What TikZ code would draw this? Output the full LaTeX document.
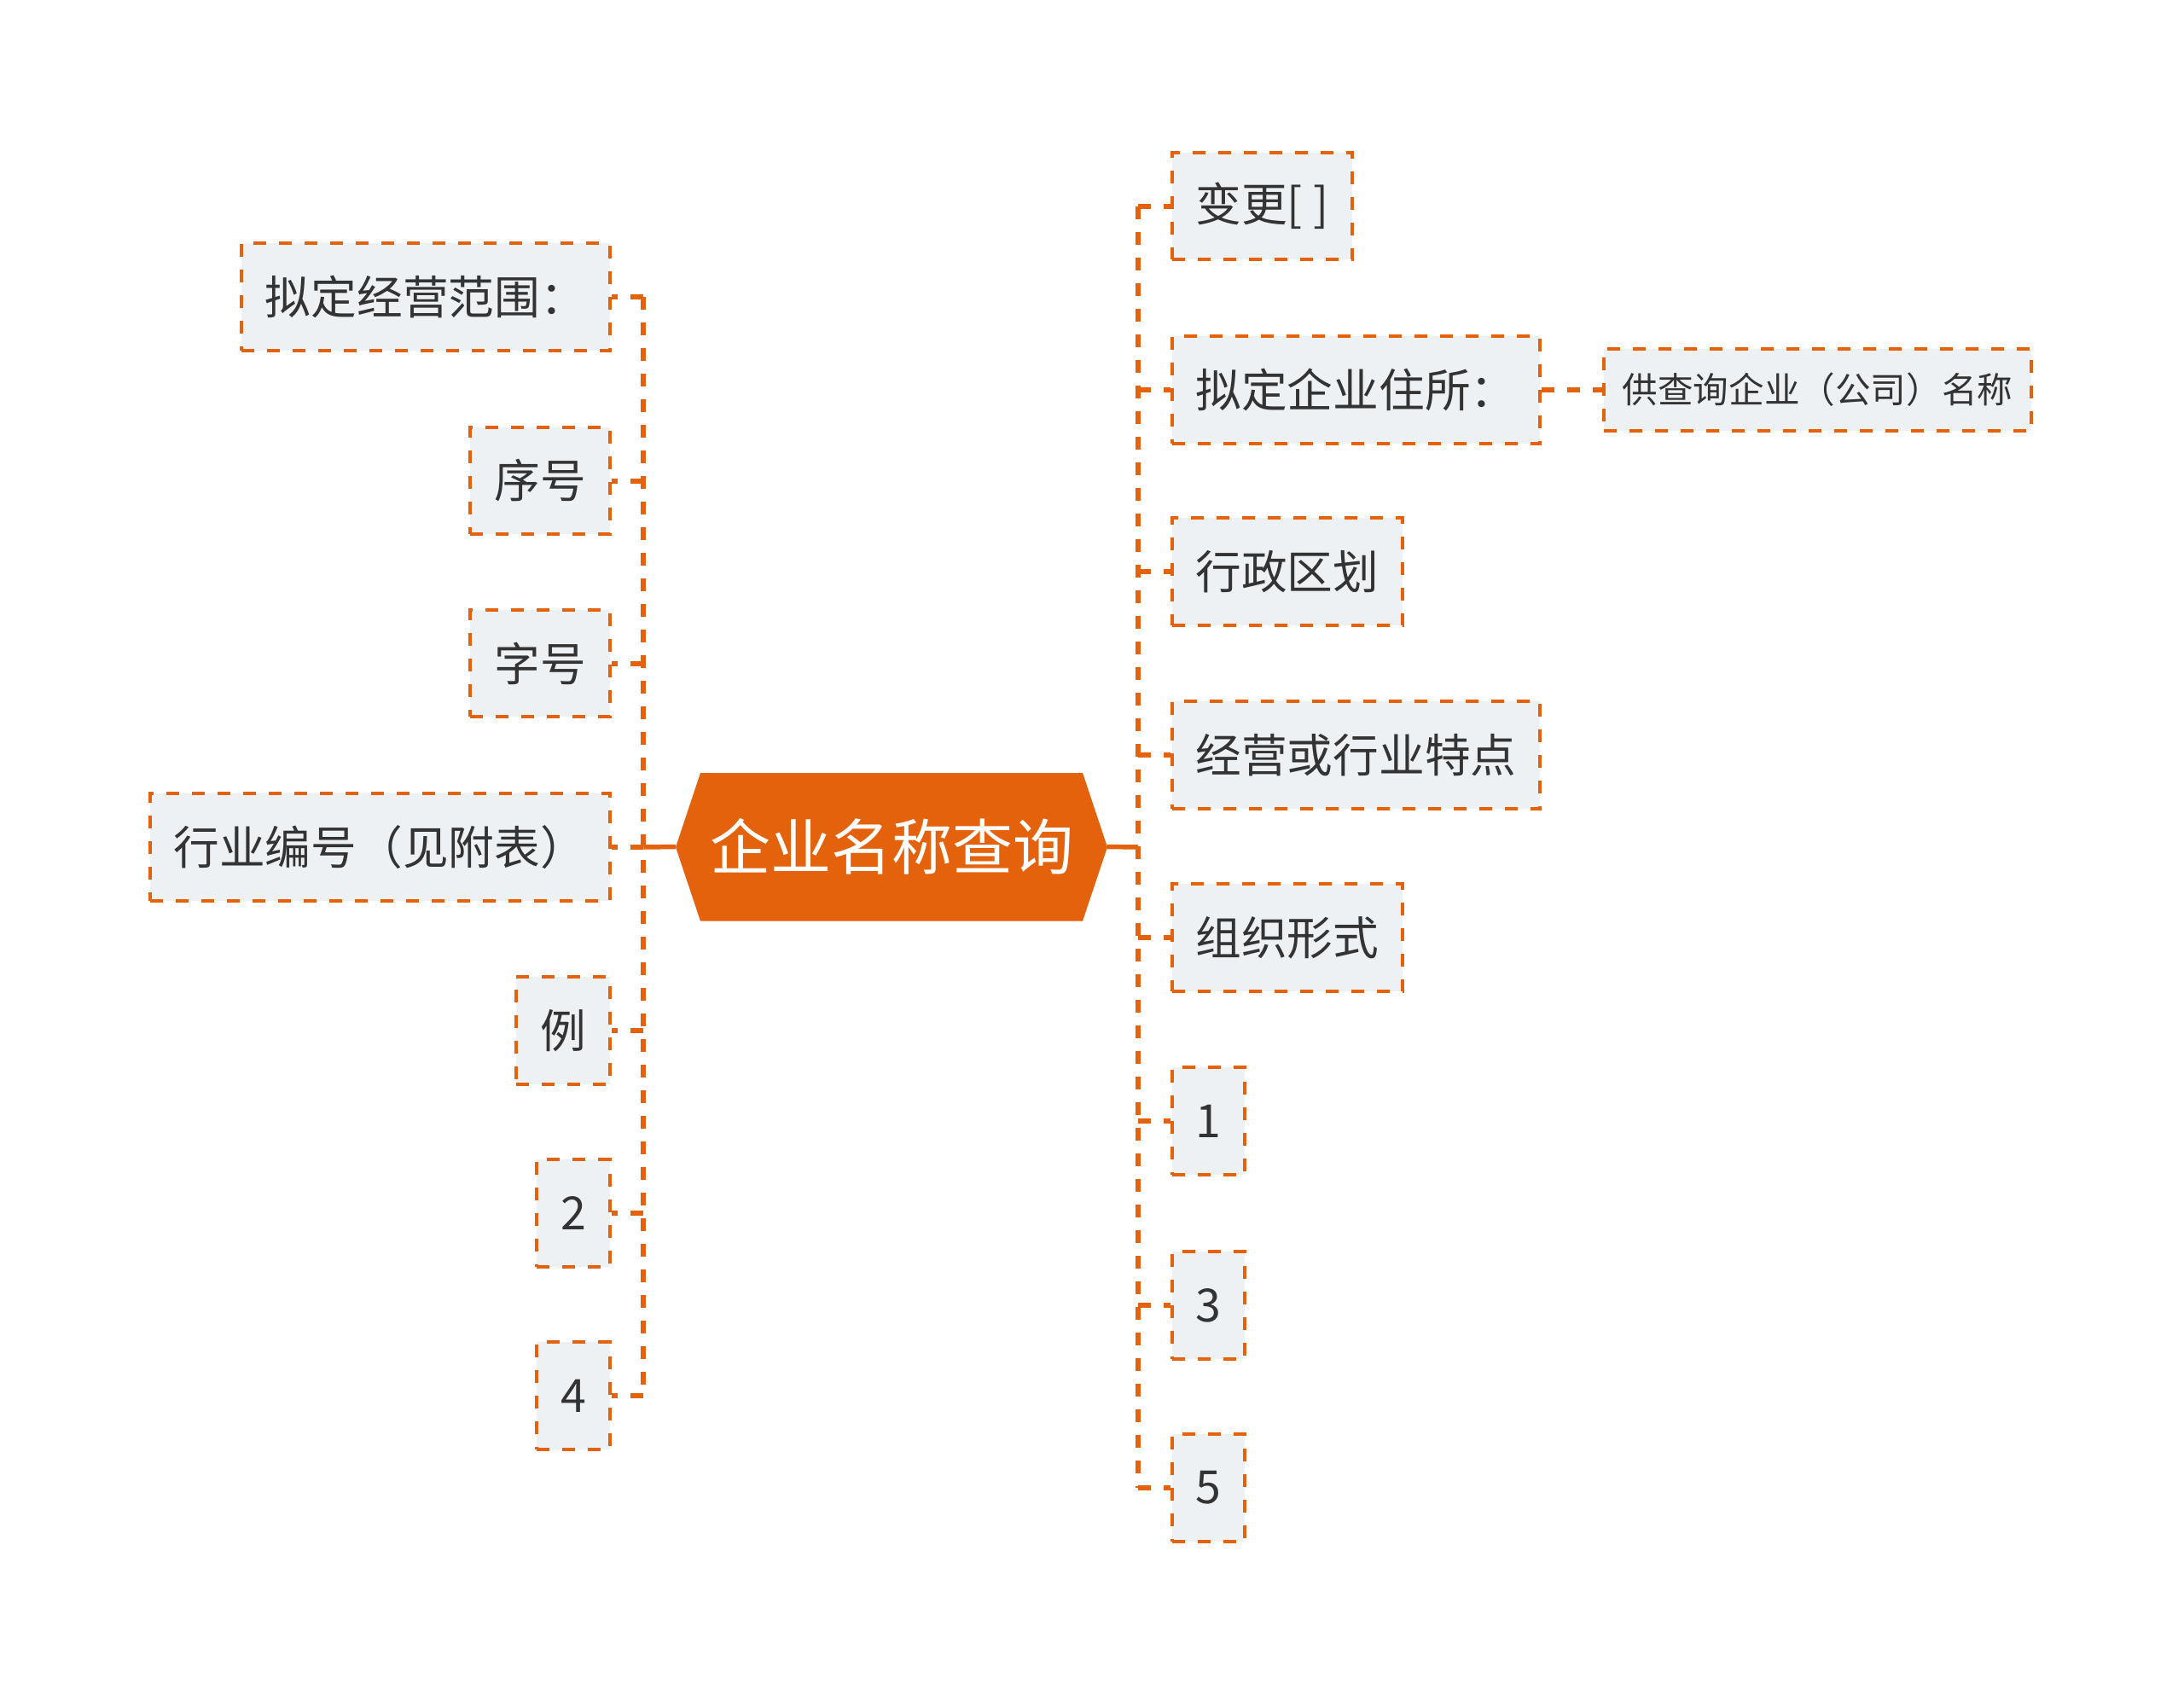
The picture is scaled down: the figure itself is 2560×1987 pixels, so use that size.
\documentclass[tikz,border=0pt]{standalone}
\usepackage{fontspec}
\setmainfont{Noto Sans CJK SC}
\definecolor{accent}{HTML}{E5620C}
\definecolor{boxfill}{HTML}{EEF1F4}
\definecolor{txt}{HTML}{333333}
\begin{document}
\begin{tikzpicture}[x=1pt,y=-1pt,
  leaf/.style={draw=accent, line width=4pt, dash pattern=on 15pt off 15pt, fill=boxfill, text=txt,
    font=\fontsize{53.7}{60}\selectfont, minimum height=125.7pt, inner xsep=28pt, inner ysep=0pt},
  smallleaf/.style={leaf, font=\fontsize{41.6}{48}\selectfont, minimum height=96.5pt, inner xsep=22pt},
  conn/.style={draw=accent, line width=6pt, dash pattern=on 15pt off 15pt},
  hub/.style={draw=accent, line width=5.5pt},
  rootnode/.style={minimum width=506pt, minimum height=173pt, inner sep=0pt, text=white,
    font=\fontsize{71}{80}\selectfont}]
\useasboundingbox[fill=white] (0,0) rectangle (2560,1987);

% central hexagon
\fill[accent] (792,993) -- (821,906) -- (1269,906) -- (1298,993) -- (1269,1079.5) -- (821,1079.5) -- cycle;
\node[rootnode] (root) at (1045,992.5) {企业名称查询};

% right branch
\node[leaf, anchor=west] (r1) at (1371.5,241.6) {变更[ ]};
\node[leaf, anchor=west] (r2) at (1371.5,457) {拟定企业住所：};
\node[smallleaf, anchor=west] (r2a) at (1877.6,457) {供查询企业（公司）名称};
\node[leaf, anchor=west] (r3) at (1371.5,670) {行政区划};
\node[leaf, anchor=west] (r4) at (1371.5,885) {经营或行业特点};
\node[leaf, anchor=west] (r5) at (1371.5,1099) {组织形式};
\node[leaf, anchor=west] (r6) at (1371.5,1314) {1};
\node[leaf, anchor=west] (r7) at (1371.5,1530) {3};
\node[leaf, anchor=west] (r8) at (1371.5,1744) {5};

% left branch
\node[leaf, anchor=east] (l1) at (716.8,348) {拟定经营范围：};
\node[leaf, anchor=east] (l2) at (716.8,563.5) {序号};
\node[leaf, anchor=east] (l3) at (716.8,777.5) {字号};
\node[leaf, anchor=east] (l4) at (716.8,993) {行业编号（见附表）};
\node[leaf, anchor=east] (l5) at (716.8,1208) {例};
\node[leaf, anchor=east] (l6) at (716.8,1422) {2};
\node[leaf, anchor=east] (l7) at (716.8,1636) {4};

% trunks
\coordinate (rt) at (1334,993);
\coordinate (lt) at (754.3,993);

\draw[hub] (root.east) -- (rt);
\draw[hub] (root.west) -- (lt);
\draw[conn] (rt |- r1.west) -- (rt |- r8.west);
\draw[conn] (lt |- l1.east) -- (lt |- l7.east);
\foreach \n in {r1,r2,r3,r4,r5,r6,r7,r8}
  \draw[conn] (rt |- \n.west) -- (\n.west);
\foreach \n in {l1,l2,l3,l4,l5,l6,l7}
  \draw[conn] (lt |- \n.east) -- (\n.east);
\draw[conn] (r2.east) -- (r2a.west);
\end{tikzpicture}
\end{document}
